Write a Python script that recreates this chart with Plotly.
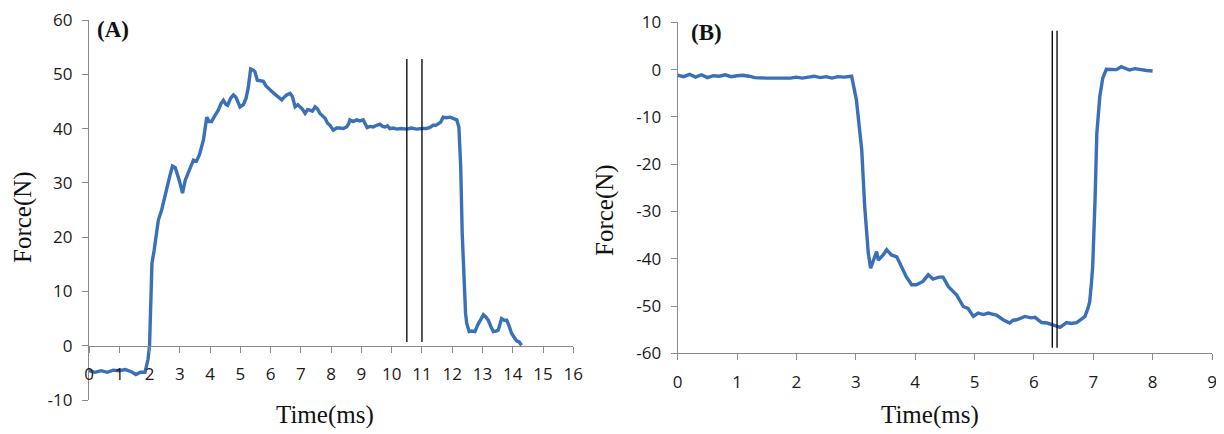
import plotly.graph_objects as go

PAGE_W, PAGE_H = 1224, 434
BODY_MARGIN = 8  # default page body margin around the plot div
W, H = PAGE_W - BODY_MARGIN, PAGE_H - BODY_MARGIN

# ---------------- Data ----------------
time_a = [0.0, 0.2, 0.4, 0.6, 0.8, 1.0, 1.2, 1.4, 1.55, 1.7, 1.85, 1.95, 2.0, 2.04, 2.08, 2.15, 2.29,
          2.4, 2.57, 2.68, 2.76, 2.85, 2.98, 3.09, 3.18, 3.28, 3.45, 3.55, 3.65, 3.78, 3.89, 3.97, 4.05,
          4.15, 4.27, 4.36, 4.44, 4.52, 4.58, 4.68, 4.77, 4.85, 4.99, 5.1, 5.19, 5.26, 5.34, 5.42, 5.48,
          5.56, 5.68, 5.76, 5.84, 5.92, 6.05, 6.15, 6.25, 6.37, 6.45, 6.53, 6.64, 6.72, 6.81, 6.9, 6.97,
          7.05, 7.14, 7.22, 7.30, 7.38, 7.47, 7.55, 7.63, 7.72, 7.80, 7.88, 7.96, 8.07, 8.18, 8.29, 8.4,
          8.51, 8.58, 8.62, 8.73, 8.84, 8.95, 9.06, 9.12, 9.19, 9.28, 9.39, 9.5, 9.61, 9.7, 9.78, 9.86,
          9.94, 10.05, 10.17, 10.3, 10.5, 10.65, 10.83, 11.0, 11.15, 11.26, 11.37, 11.46, 11.54, 11.62,
          11.70, 11.8, 11.93, 12.05, 12.15, 12.22, 12.25, 12.28, 12.33, 12.39, 12.44, 12.48, 12.56,
          12.65, 12.75, 12.84, 12.92, 13.03, 13.11, 13.19, 13.28, 13.36, 13.45, 13.52, 13.58, 13.63,
          13.72, 13.80, 13.88, 13.96, 14.05, 14.13, 14.21, 14.29]
force_a = [-4.6, -4.9, -4.6, -4.9, -4.5, -4.6, -4.4, -4.8, -5.3, -4.9, -4.9, -2.5, 0.0, 8.0, 15.2, 17.5,
           23.1, 25.0, 29.3, 31.5, 33.1, 32.8, 30.5, 28.1, 30.5, 32.0, 34.2, 34.0, 35.2, 37.9, 42.1, 41.3,
           41.3, 42.3, 43.4, 44.6, 45.2, 44.5, 44.3, 45.6, 46.2, 45.8, 44.0, 44.4, 45.6, 47.5, 51.0,
           50.8, 50.5, 48.9, 48.8, 48.7, 47.9, 47.4, 46.8, 46.3, 45.9, 45.3, 45.8, 46.2, 46.5, 45.9,
           44.0, 44.4, 44.0, 43.6, 42.8, 43.5, 43.4, 43.2, 44.0, 43.6, 42.8, 42.4, 41.9, 41.0, 40.6,
           39.7, 40.1, 40.1, 40.0, 40.3, 40.9, 41.6, 41.3, 41.6, 41.4, 41.6, 40.8, 40.2, 40.4, 40.3,
           40.6, 40.8, 40.4, 40.3, 40.5, 40.0, 40.1, 39.9, 40.0, 39.9, 40.1, 39.9, 40.0, 40.0, 40.2,
           40.6, 40.6, 41.0, 41.2, 42.1, 42.0, 42.1, 41.8, 41.6, 40.3, 36.0, 33.0, 20.7, 10.3, 6.0, 4.1,
           2.6, 2.7, 2.6, 3.8, 4.7, 5.7, 5.3, 4.7, 3.5, 2.6, 2.7, 2.9, 4.0, 5.0, 4.7, 4.7, 3.6, 2.3,
           1.5, 0.9, 0.7, 0.1]

time_b = [0.0, 0.1, 0.2, 0.3, 0.4, 0.5, 0.6, 0.7, 0.8, 0.9, 1.0, 1.1, 1.2, 1.3, 1.5, 1.7, 1.9, 2.0,
          2.1, 2.2, 2.3, 2.4, 2.5, 2.6, 2.7, 2.8, 2.93, 3.01, 3.10, 3.15, 3.21, 3.25, 3.30, 3.35, 3.38,
          3.46, 3.52, 3.60, 3.69, 3.77, 3.85, 3.94, 4.02, 4.13, 4.22, 4.30, 4.40, 4.47, 4.56, 4.63, 4.70,
          4.81, 4.89, 4.98, 5.06, 5.15, 5.23, 5.30, 5.37, 5.48, 5.59, 5.65, 5.71, 5.85, 5.95, 6.02, 6.13,
          6.22, 6.30, 6.37, 6.44, 6.55, 6.63, 6.72, 6.80, 6.86, 6.91, 6.94, 6.97, 6.99, 7.03, 7.06, 7.11,
          7.16, 7.22, 7.30, 7.39, 7.47, 7.55, 7.61, 7.70, 7.78, 7.90, 8.0]
force_b = [-1.2, -1.5, -1.0, -1.6, -1.1, -1.7, -1.3, -1.4, -1.1, -1.5, -1.3, -1.2, -1.4, -1.7, -1.8,
           -1.8, -1.8, -1.6, -1.8, -1.6, -1.4, -1.7, -1.5, -1.8, -1.5, -1.6, -1.4, -6.4, -17.0, -29.0,
           -38.8, -42.0, -40.3, -38.5, -40.3, -39.2, -38.1, -39.2, -39.6, -41.7, -43.8, -45.5, -45.5,
           -44.8, -43.4, -44.3, -43.9, -43.9, -45.9, -46.8, -47.7, -50.1, -50.5, -52.2, -51.5, -51.8,
           -51.5, -51.7, -51.9, -52.9, -53.6, -53.0, -52.9, -52.2, -52.5, -52.4, -53.5, -53.6, -54.0,
           -54.2, -54.5, -53.5, -53.7, -53.5, -52.8, -52.2, -50.5, -49.1, -45.0, -41.7, -27.6, -13.5,
           -5.7, -1.8, 0.06, 0.0, 0.0, 0.6, 0.1, -0.1, 0.2, 0.0, -0.2, -0.3]

# Vertical marker lines (x positions and their vertical extent)
vline_a_x = [10.5, 11.0]
vline_a_y = [0.7, 52.8]
vline_b_x = [6.31, 6.39]
vline_b_y = [-58.8, 8.2]

xticks_a = list(range(0, 17))
yticks_a = list(range(-10, 61, 10))
xticks_b = list(range(0, 10))
yticks_b = list(range(-60, 11, 10))

# ---------------- Layout helpers (page pixel -> paper fraction) ----------------
def px_x(p):
    return (p - BODY_MARGIN) / W

def px_y(p):
    return 1 - (p - BODY_MARGIN) / H

def labels(vals):
    return [str(v) for v in vals]  # plain hyphen minus as in the original

BLUE = "#3a70b8"
AXIS = "#8a8a8a"
TICKFONT = dict(family="Open Sans", size=17, color="#1a1a1a")
SERIF = "Liberation Serif"

fig = go.Figure()

fig.add_trace(go.Scatter(x=time_a, y=force_a, mode="lines",
                         line=dict(color=BLUE, width=3.4), xaxis="x", yaxis="y",
                         showlegend=False))
for xv in vline_a_x:
    fig.add_trace(go.Scatter(x=[xv, xv], y=vline_a_y, mode="lines",
                             line=dict(color="#111111", width=1.4), xaxis="x", yaxis="y",
                             showlegend=False))

fig.add_trace(go.Scatter(x=time_b, y=force_b, mode="lines",
                         line=dict(color=BLUE, width=3.4), xaxis="x2", yaxis="y2",
                         showlegend=False))
for xv in vline_b_x:
    fig.add_trace(go.Scatter(x=[xv, xv], y=vline_b_y, mode="lines",
                             line=dict(color="#111111", width=1.4), xaxis="x2", yaxis="y2",
                             showlegend=False))

ya_dom = [px_y(400), px_y(20)]
yb_dom = [px_y(353.3), px_y(22.3)]
# x-axis of panel A sits at y = 0
ya_zero_pos = ya_dom[0] + (0 - (-10)) / 70 * (ya_dom[1] - ya_dom[0])

common_axis = dict(showgrid=False, zeroline=False, showline=True, linecolor=AXIS, linewidth=1.2,
                   ticks="outside", ticklen=6, tickcolor=AXIS, tickwidth=1.2, tickfont=TICKFONT,
                   automargin=False, ticklabeloverflow="allow")

fig.update_layout(
    width=W, height=H, autosize=False,
    margin=dict(l=0, r=0, t=0, b=0),
    paper_bgcolor="white", plot_bgcolor="white",
    xaxis=dict(domain=[px_x(89), px_x(573.3)], range=[0, 16], tickvals=xticks_a,
               ticktext=labels(xticks_a),
               anchor="free", position=ya_zero_pos, ticklabelstandoff=7, **common_axis),
    yaxis=dict(domain=ya_dom, range=[-10, 60], tickvals=yticks_a, ticktext=labels(yticks_a),
               anchor="x", ticklabelstandoff=6, **common_axis),
    xaxis2=dict(domain=[px_x(677.7), px_x(1212)], range=[0, 9], tickvals=xticks_b,
                ticktext=labels(xticks_b),
                anchor="y2", ticklabelstandoff=7, **common_axis),
    yaxis2=dict(domain=yb_dom, range=[-60, 10], tickvals=yticks_b, ticktext=labels(yticks_b),
                anchor="x2", ticklabelstandoff=6, **common_axis),
)

ann = []
title_font = dict(family=SERIF, size=25, color="#111111")
ann.append(dict(text="Time(ms)", x=px_x(325), y=px_y(415), xref="paper", yref="paper",
                showarrow=False, font=title_font, xanchor="center", yanchor="middle"))
ann.append(dict(text="Time(ms)", x=px_x(930), y=px_y(415), xref="paper", yref="paper",
                showarrow=False, font=title_font, xanchor="center", yanchor="middle"))
ann.append(dict(text="Force(N)", x=px_x(23), y=px_y(217), xref="paper", yref="paper",
                showarrow=False, font=title_font, textangle=-90, xanchor="center", yanchor="middle"))
ann.append(dict(text="Force(N)", x=px_x(605), y=px_y(210), xref="paper", yref="paper",
                showarrow=False, font=title_font, textangle=-90, xanchor="center", yanchor="middle"))
label_font = dict(family=SERIF, size=23, color="#111111")
ann.append(dict(text="<b>(A)</b>", x=px_x(95), y=px_y(30), xref="paper", yref="paper",
                showarrow=False, font=label_font, xanchor="left", yanchor="middle"))
ann.append(dict(text="<b>(B)</b>", x=px_x(689), y=px_y(32), xref="paper", yref="paper",
                showarrow=False, font=label_font, xanchor="left", yanchor="middle"))
fig.update_layout(annotations=ann)

fig.write_html("out.html")
